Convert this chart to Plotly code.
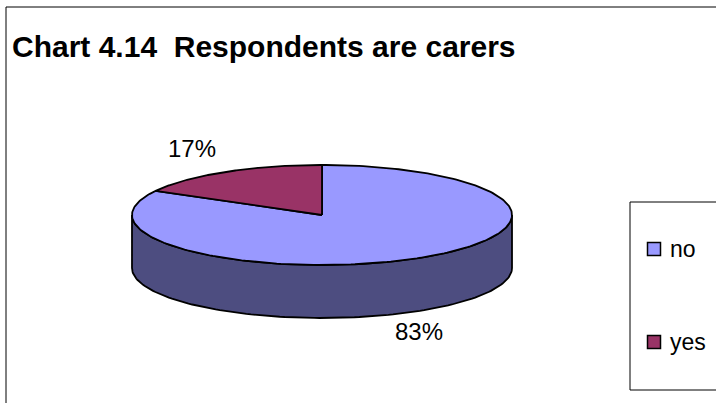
import numpy as np
import plotly.graph_objects as go

# Survey answers: share of respondents who are carers
categories = ["no", "yes"]
values = [83, 17]
colors_top = ["#9999FF", "#993366"]
colors_side = ["#4D4D80", "#4D1A33"]
title_text = "Chart 4.14  Respondents are carers"

W, H = 716, 403
# Pie geometry in pixel space (tilted ellipse + extruded side)
CX, CY = 322, 215
RX, RY = 190, 50
DEPTH = 53
FONT = "Liberation Sans, Arial, sans-serif"


def ell(theta_deg, dy=0.0):
    t = np.radians(theta_deg)
    return CX + RX * np.cos(t), CY - RY * np.sin(t) + dy


# slice angle ranges: clockwise from 12 o'clock
total = float(sum(values))
ranges = []
start = 90.0
for v in values:
    end = start - 360.0 * v / total
    ranges.append((start, end))
    start = end

fig = go.Figure()

# visible sides (front half of the ellipse: angles in [-180, 0] mod 360)
for (s, e), col in zip(ranges, colors_side):
    for k in (-1, 0, 1):
        lo, hi = -180 + 360 * k, 0 + 360 * k
        a0, a1 = min(s, hi), max(e, lo)
        if a0 <= a1:
            continue
        th = np.linspace(a0, a1, 120)
        xt, yt = ell(th)
        xb, yb = ell(th[::-1], DEPTH)
        xs = np.concatenate([xt, xb, xt[:1]])
        ys = np.concatenate([yt, yb, yt[:1]])
        fig.add_trace(go.Scatter(
            x=xs, y=ys, mode="lines", fill="toself", fillcolor=col,
            line=dict(color="black", width=1.8), hoverinfo="skip",
            showlegend=False))

# top faces of the slices
for (s, e), col, name, v in zip(ranges, colors_top, categories, values):
    th = np.linspace(s, e, 240)
    xa, ya = ell(th)
    xs = np.concatenate([[CX], xa, [CX]])
    ys = np.concatenate([[CY], ya, [CY]])
    fig.add_trace(go.Scatter(
        x=xs, y=ys, mode="lines", fill="toself", fillcolor=col,
        line=dict(color="black", width=1.8), hoveron="fills",
        hoverinfo="text", text=f"{name}: {v}%", showlegend=False))

# percentage labels
label_pos = [(419, 331), (192, 148)]
for v, (lx, ly) in zip(values, label_pos):
    fig.add_annotation(x=lx, y=ly, text=f"{v}%", showarrow=False,
                       font=dict(family=FONT, size=24, color="black"),
                       xanchor="center", yanchor="middle")

# legend box with swatches
legend_y = [249, 342]
fig.add_trace(go.Scatter(
    x=[654, 654], y=legend_y, mode="markers",
    marker=dict(symbol="square", size=13, color=colors_top,
                line=dict(color="black", width=1.5)),
    hoverinfo="skip", showlegend=False))
for name, ly in zip(categories, legend_y):
    fig.add_annotation(x=668, y=ly, text=name, showarrow=False,
                       font=dict(family=FONT, size=23, color="black"),
                       xanchor="left", yanchor="middle")

shapes = [
    dict(type="rect", x0=6, y0=7, x1=760, y1=440, xref="x", yref="y",
         line=dict(color="black", width=1), layer="below"),
    dict(type="rect", x0=630, y0=202, x1=760, y1=390, xref="x", yref="y",
         line=dict(color="black", width=1), layer="below"),
]

fig.add_annotation(x=10, y=46, text=f"<b>{title_text}</b>", showarrow=False,
                   font=dict(family=FONT, size=30, color="black"),
                   xanchor="left", yanchor="middle")

fig.update_layout(
    width=W, height=H,
    margin=dict(l=0, r=0, t=0, b=0),
    paper_bgcolor="white", plot_bgcolor="white",
    xaxis=dict(range=[0, W], visible=False, fixedrange=True),
    yaxis=dict(range=[H, 0], visible=False, fixedrange=True),
    shapes=shapes,
    showlegend=False,
)

fig.write_html("out.html")
